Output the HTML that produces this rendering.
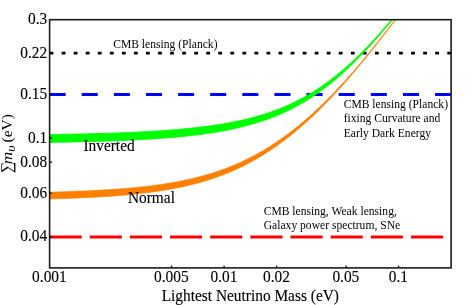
<!DOCTYPE html>
<html><head><meta charset="utf-8"><title>Neutrino mass</title>
<style>
html,body{margin:0;padding:0;background:#fff;}
body{width:471px;height:305px;overflow:hidden;font-family:"Liberation Serif",serif;}
svg{display:block;will-change:transform;opacity:0.999;}
text{font-family:"Liberation Serif",serif;fill:#000;stroke:#000;stroke-width:0.12px;}
.b{font-size:15.4px;}
.s{font-size:11.6px;stroke-width:0;}
.r text{stroke-width:0;}
</style></head><body>
<svg width="471" height="305" viewBox="0 0 471 305">
<rect width="471" height="305" fill="#fff"/>
<defs><clipPath id="c"><rect x="49.6" y="19.7" width="401.50" height="248.20"/></clipPath></defs>
<g clip-path="url(#c)">
<line x1="49.6" x2="451.1" y1="53.13" y2="53.13" stroke="#000" stroke-width="2.7" stroke-dasharray="3.8 8.25"/>
<line x1="49.6" x2="451.1" y1="94.42" y2="94.42" stroke="#0000ff" stroke-width="3" stroke-dasharray="16.06 16.06"/>
<line x1="49.6" x2="451.1" y1="236.89" y2="236.89" stroke="#ff0000" stroke-width="3" stroke-dasharray="32.12 8.03"/>
<path d="M49.60,192.22 L51.62,192.16 L53.64,192.11 L55.65,192.05 L57.67,191.99 L59.69,191.93 L61.71,191.86 L63.72,191.80 L65.74,191.73 L67.76,191.66 L69.78,191.59 L71.79,191.52 L73.81,191.44 L75.83,191.36 L77.85,191.28 L79.86,191.20 L81.88,191.12 L83.90,191.03 L85.92,190.94 L87.93,190.84 L89.95,190.75 L91.97,190.65 L93.99,190.55 L96.00,190.44 L98.02,190.33 L100.04,190.22 L102.06,190.11 L104.07,189.99 L106.09,189.86 L108.11,189.74 L110.13,189.61 L112.15,189.47 L114.16,189.33 L116.18,189.19 L118.20,189.04 L120.22,188.89 L122.23,188.73 L124.25,188.57 L126.27,188.40 L128.29,188.22 L130.30,188.04 L132.32,187.86 L134.34,187.67 L136.36,187.47 L138.37,187.27 L140.39,187.06 L142.41,186.84 L144.43,186.62 L146.44,186.39 L148.46,186.15 L150.48,185.91 L152.50,185.65 L154.51,185.39 L156.53,185.12 L158.55,184.84 L160.57,184.55 L162.58,184.26 L164.60,183.95 L166.62,183.63 L168.64,183.31 L170.66,182.97 L172.67,182.62 L174.69,182.26 L176.71,181.89 L178.73,181.51 L180.74,181.12 L182.76,180.71 L184.78,180.29 L186.80,179.86 L188.81,179.42 L190.83,178.96 L192.85,178.48 L194.87,178.00 L196.88,177.50 L198.90,176.98 L200.92,176.45 L202.94,175.90 L204.95,175.33 L206.97,174.75 L208.99,174.15 L211.01,173.54 L213.02,172.91 L215.04,172.26 L217.06,171.59 L219.08,170.90 L221.09,170.19 L223.11,169.47 L225.13,168.72 L227.15,167.95 L229.17,167.17 L231.18,166.36 L233.20,165.53 L235.22,164.68 L237.24,163.81 L239.25,162.92 L241.27,162.00 L243.29,161.06 L245.31,160.10 L247.32,159.12 L249.34,158.11 L251.36,157.08 L253.38,156.02 L255.39,154.94 L257.41,153.84 L259.43,152.71 L261.45,151.56 L263.46,150.38 L265.48,149.18 L267.50,147.95 L269.52,146.69 L271.53,145.41 L273.55,144.10 L275.57,142.77 L277.59,141.41 L279.61,140.03 L281.62,138.61 L283.64,137.17 L285.66,135.71 L287.68,134.22 L289.69,132.70 L291.71,131.15 L293.73,129.58 L295.75,127.98 L297.76,126.35 L299.78,124.69 L301.80,123.01 L303.82,121.31 L305.83,119.57 L307.85,117.81 L309.87,116.02 L311.89,114.21 L313.90,112.36 L315.92,110.50 L317.94,108.60 L319.96,106.68 L321.97,104.74 L323.99,102.77 L326.01,100.77 L328.03,98.75 L330.04,96.71 L332.06,94.64 L334.08,92.54 L336.10,90.42 L338.12,88.28 L340.13,86.12 L342.15,83.93 L344.17,81.72 L346.19,79.49 L348.20,77.24 L350.22,74.96 L352.24,72.67 L354.26,70.35 L356.27,68.02 L358.29,65.66 L360.31,63.29 L362.33,60.90 L364.34,58.49 L366.36,56.06 L368.38,53.61 L370.40,51.15 L372.41,48.67 L374.43,46.18 L376.45,43.67 L378.47,41.15 L380.48,38.61 L382.50,36.06 L384.52,33.49 L386.54,30.91 L388.55,28.32 L390.57,25.72 L392.59,23.10 L394.61,20.48 L396.63,17.84 L398.64,15.19 L400.66,12.54 L402.68,9.87 L404.70,7.20 L406.71,4.51 L408.73,1.82 L410.75,-0.88 L412.77,-3.59 L414.78,-6.31 L416.80,-9.03 L418.82,-11.77 L420.84,-14.50 L422.85,-17.25 L424.87,-20.00 L426.89,-22.75 L428.91,-25.51 L430.92,-28.28 L432.94,-31.05 L434.96,-33.83 L436.98,-36.61 L438.99,-39.39 L441.01,-42.18 L443.03,-44.98 L445.05,-47.77 L447.06,-50.57 L449.08,-53.38 L451.10,-56.18 L451.10,-56.03 L449.08,-53.21 L447.06,-50.40 L445.05,-47.59 L443.03,-44.78 L441.01,-41.98 L438.99,-39.18 L436.98,-36.39 L434.96,-33.59 L432.94,-30.81 L430.92,-28.02 L428.91,-25.24 L426.89,-22.47 L424.87,-19.70 L422.85,-16.93 L420.84,-14.17 L418.82,-11.42 L416.80,-8.67 L414.78,-5.93 L412.77,-3.19 L410.75,-0.46 L408.73,2.26 L406.71,4.97 L404.70,7.68 L402.68,10.38 L400.66,13.07 L398.64,15.75 L396.63,18.43 L394.61,21.09 L392.59,23.74 L390.57,26.39 L388.55,29.02 L386.54,31.64 L384.52,34.26 L382.50,36.85 L380.48,39.44 L378.47,42.02 L376.45,44.58 L374.43,47.13 L372.41,49.66 L370.40,52.18 L368.38,54.68 L366.36,57.17 L364.34,59.65 L362.33,62.10 L360.31,64.54 L358.29,66.96 L356.27,69.37 L354.26,71.76 L352.24,74.12 L350.22,76.47 L348.20,78.80 L346.19,81.11 L344.17,83.40 L342.15,85.67 L340.13,87.91 L338.12,90.14 L336.10,92.34 L334.08,94.52 L332.06,96.67 L330.04,98.81 L328.03,100.92 L326.01,103.00 L323.99,105.06 L321.97,107.10 L319.96,109.11 L317.94,111.10 L315.92,113.06 L313.90,114.99 L311.89,116.90 L309.87,118.78 L307.85,120.64 L305.83,122.47 L303.82,124.27 L301.80,126.05 L299.78,127.80 L297.76,129.52 L295.75,131.22 L293.73,132.88 L291.71,134.53 L289.69,136.14 L287.68,137.73 L285.66,139.29 L283.64,140.82 L281.62,142.32 L279.61,143.80 L277.59,145.25 L275.57,146.68 L273.55,148.07 L271.53,149.44 L269.52,150.79 L267.50,152.11 L265.48,153.40 L263.46,154.66 L261.45,155.90 L259.43,157.11 L257.41,158.30 L255.39,159.46 L253.38,160.60 L251.36,161.71 L249.34,162.80 L247.32,163.86 L245.31,164.90 L243.29,165.91 L241.27,166.90 L239.25,167.87 L237.24,168.81 L235.22,169.73 L233.20,170.63 L231.18,171.50 L229.17,172.36 L227.15,173.19 L225.13,174.00 L223.11,174.79 L221.09,175.56 L219.08,176.31 L217.06,177.03 L215.04,177.74 L213.02,178.43 L211.01,179.10 L208.99,179.76 L206.97,180.39 L204.95,181.01 L202.94,181.60 L200.92,182.19 L198.90,182.75 L196.88,183.30 L194.87,183.83 L192.85,184.35 L190.83,184.85 L188.81,185.34 L186.80,185.81 L184.78,186.27 L182.76,186.72 L180.74,187.15 L178.73,187.57 L176.71,187.97 L174.69,188.37 L172.67,188.75 L170.66,189.12 L168.64,189.48 L166.62,189.82 L164.60,190.16 L162.58,190.49 L160.57,190.80 L158.55,191.11 L156.53,191.41 L154.51,191.69 L152.50,191.97 L150.48,192.24 L148.46,192.50 L146.44,192.76 L144.43,193.00 L142.41,193.24 L140.39,193.47 L138.37,193.69 L136.36,193.91 L134.34,194.12 L132.32,194.32 L130.30,194.52 L128.29,194.71 L126.27,194.90 L124.25,195.07 L122.23,195.25 L120.22,195.42 L118.20,195.58 L116.18,195.74 L114.16,195.89 L112.15,196.04 L110.13,196.18 L108.11,196.32 L106.09,196.46 L104.07,196.59 L102.06,196.72 L100.04,196.84 L98.02,196.96 L96.00,197.07 L93.99,197.19 L91.97,197.30 L89.95,197.40 L87.93,197.50 L85.92,197.60 L83.90,197.70 L81.88,197.79 L79.86,197.88 L77.85,197.97 L75.83,198.06 L73.81,198.14 L71.79,198.22 L69.78,198.30 L67.76,198.38 L65.74,198.45 L63.72,198.52 L61.71,198.59 L59.69,198.66 L57.67,198.72 L55.65,198.79 L53.64,198.85 L51.62,198.91 L49.60,198.97Z" fill="#ff8000" stroke="#ff8000" stroke-width="0.7" stroke-linejoin="round"/>
<path d="M49.60,134.54 L51.62,134.51 L53.64,134.48 L55.65,134.45 L57.67,134.42 L59.69,134.38 L61.71,134.35 L63.72,134.32 L65.74,134.28 L67.76,134.24 L69.78,134.21 L71.79,134.17 L73.81,134.13 L75.83,134.09 L77.85,134.05 L79.86,134.00 L81.88,133.96 L83.90,133.91 L85.92,133.87 L87.93,133.82 L89.95,133.77 L91.97,133.72 L93.99,133.67 L96.00,133.61 L98.02,133.56 L100.04,133.50 L102.06,133.44 L104.07,133.38 L106.09,133.32 L108.11,133.26 L110.13,133.19 L112.15,133.13 L114.16,133.06 L116.18,132.99 L118.20,132.91 L120.22,132.84 L122.23,132.76 L124.25,132.68 L126.27,132.60 L128.29,132.51 L130.30,132.43 L132.32,132.34 L134.34,132.25 L136.36,132.15 L138.37,132.05 L140.39,131.95 L142.41,131.85 L144.43,131.75 L146.44,131.64 L148.46,131.52 L150.48,131.41 L152.50,131.29 L154.51,131.17 L156.53,131.04 L158.55,130.91 L160.57,130.78 L162.58,130.64 L164.60,130.50 L166.62,130.35 L168.64,130.20 L170.66,130.05 L172.67,129.89 L174.69,129.73 L176.71,129.56 L178.73,129.38 L180.74,129.20 L182.76,129.02 L184.78,128.83 L186.80,128.63 L188.81,128.43 L190.83,128.22 L192.85,128.01 L194.87,127.79 L196.88,127.56 L198.90,127.33 L200.92,127.09 L202.94,126.84 L204.95,126.58 L206.97,126.32 L208.99,126.04 L211.01,125.76 L213.02,125.47 L215.04,125.17 L217.06,124.87 L219.08,124.55 L221.09,124.22 L223.11,123.89 L225.13,123.54 L227.15,123.18 L229.17,122.81 L231.18,122.43 L233.20,122.04 L235.22,121.63 L237.24,121.21 L239.25,120.78 L241.27,120.34 L243.29,119.88 L245.31,119.41 L247.32,118.92 L249.34,118.42 L251.36,117.91 L253.38,117.37 L255.39,116.82 L257.41,116.26 L259.43,115.67 L261.45,115.07 L263.46,114.45 L265.48,113.81 L267.50,113.15 L269.52,112.48 L271.53,111.78 L273.55,111.06 L275.57,110.32 L277.59,109.55 L279.61,108.77 L281.62,107.96 L283.64,107.13 L285.66,106.27 L287.68,105.39 L289.69,104.48 L291.71,103.55 L293.73,102.59 L295.75,101.60 L297.76,100.59 L299.78,99.55 L301.80,98.48 L303.82,97.38 L305.83,96.25 L307.85,95.09 L309.87,93.91 L311.89,92.69 L313.90,91.44 L315.92,90.16 L317.94,88.85 L319.96,87.50 L321.97,86.13 L323.99,84.72 L326.01,83.28 L328.03,81.80 L330.04,80.30 L332.06,78.76 L334.08,77.19 L336.10,75.58 L338.12,73.95 L340.13,72.28 L342.15,70.57 L344.17,68.84 L346.19,67.07 L348.20,65.27 L350.22,63.44 L352.24,61.57 L354.26,59.68 L356.27,57.75 L358.29,55.80 L360.31,53.81 L362.33,51.80 L364.34,49.75 L366.36,47.68 L368.38,45.58 L370.40,43.45 L372.41,41.29 L374.43,39.11 L376.45,36.90 L378.47,34.67 L380.48,32.41 L382.50,30.13 L384.52,27.83 L386.54,25.50 L388.55,23.15 L390.57,20.78 L392.59,18.39 L394.61,15.98 L396.63,13.55 L398.64,11.10 L400.66,8.63 L402.68,6.15 L404.70,3.64 L406.71,1.13 L408.73,-1.41 L410.75,-3.96 L412.77,-6.52 L414.78,-9.10 L416.80,-11.69 L418.82,-14.29 L420.84,-16.90 L422.85,-19.53 L424.87,-22.17 L426.89,-24.82 L428.91,-27.48 L430.92,-30.15 L432.94,-32.83 L434.96,-35.52 L436.98,-38.21 L438.99,-40.92 L441.01,-43.63 L443.03,-46.35 L445.05,-49.08 L447.06,-51.82 L449.08,-54.56 L451.10,-57.31 L451.10,-57.00 L449.08,-54.23 L447.06,-51.48 L445.05,-48.72 L443.03,-45.98 L441.01,-43.24 L438.99,-40.50 L436.98,-37.78 L434.96,-35.06 L432.94,-32.35 L430.92,-29.64 L428.91,-26.95 L426.89,-24.26 L424.87,-21.58 L422.85,-18.92 L420.84,-16.26 L418.82,-13.61 L416.80,-10.98 L414.78,-8.35 L412.77,-5.74 L410.75,-3.14 L408.73,-0.55 L406.71,2.02 L404.70,4.58 L402.68,7.13 L400.66,9.66 L398.64,12.17 L396.63,14.67 L394.61,17.15 L392.59,19.61 L390.57,22.06 L388.55,24.49 L386.54,26.89 L384.52,29.28 L382.50,31.64 L380.48,33.99 L378.47,36.31 L376.45,38.61 L374.43,40.89 L372.41,43.14 L370.40,45.37 L368.38,47.57 L366.36,49.75 L364.34,51.89 L362.33,54.02 L360.31,56.11 L358.29,58.18 L356.27,60.22 L354.26,62.23 L352.24,64.21 L350.22,66.16 L348.20,68.07 L346.19,69.96 L344.17,71.82 L342.15,73.64 L340.13,75.44 L338.12,77.20 L336.10,78.92 L334.08,80.62 L332.06,82.28 L330.04,83.91 L328.03,85.51 L326.01,87.07 L323.99,88.61 L321.97,90.10 L319.96,91.57 L317.94,93.00 L315.92,94.41 L313.90,95.77 L311.89,97.11 L309.87,98.42 L307.85,99.69 L305.83,100.93 L303.82,102.14 L301.80,103.32 L299.78,104.47 L297.76,105.60 L295.75,106.69 L293.73,107.75 L291.71,108.79 L289.69,109.79 L287.68,110.77 L285.66,111.73 L283.64,112.65 L281.62,113.56 L279.61,114.43 L277.59,115.28 L275.57,116.11 L273.55,116.91 L271.53,117.70 L269.52,118.45 L267.50,119.19 L265.48,119.90 L263.46,120.60 L261.45,121.27 L259.43,121.93 L257.41,122.56 L255.39,123.18 L253.38,123.77 L251.36,124.35 L249.34,124.92 L247.32,125.46 L245.31,125.99 L243.29,126.50 L241.27,127.00 L239.25,127.49 L237.24,127.95 L235.22,128.41 L233.20,128.85 L231.18,129.28 L229.17,129.69 L227.15,130.09 L225.13,130.48 L223.11,130.86 L221.09,131.23 L219.08,131.59 L217.06,131.93 L215.04,132.27 L213.02,132.59 L211.01,132.91 L208.99,133.21 L206.97,133.51 L204.95,133.80 L202.94,134.07 L200.92,134.34 L198.90,134.61 L196.88,134.86 L194.87,135.11 L192.85,135.35 L190.83,135.58 L188.81,135.81 L186.80,136.03 L184.78,136.24 L182.76,136.45 L180.74,136.65 L178.73,136.84 L176.71,137.03 L174.69,137.21 L172.67,137.39 L170.66,137.56 L168.64,137.73 L166.62,137.90 L164.60,138.05 L162.58,138.21 L160.57,138.36 L158.55,138.50 L156.53,138.64 L154.51,138.78 L152.50,138.91 L150.48,139.04 L148.46,139.16 L146.44,139.29 L144.43,139.40 L142.41,139.52 L140.39,139.63 L138.37,139.74 L136.36,139.84 L134.34,139.95 L132.32,140.05 L130.30,140.14 L128.29,140.24 L126.27,140.33 L124.25,140.42 L122.23,140.50 L120.22,140.59 L118.20,140.67 L116.18,140.75 L114.16,140.82 L112.15,140.90 L110.13,140.97 L108.11,141.04 L106.09,141.11 L104.07,141.18 L102.06,141.24 L100.04,141.30 L98.02,141.37 L96.00,141.43 L93.99,141.48 L91.97,141.54 L89.95,141.59 L87.93,141.65 L85.92,141.70 L83.90,141.75 L81.88,141.80 L79.86,141.85 L77.85,141.89 L75.83,141.94 L73.81,141.98 L71.79,142.03 L69.78,142.07 L67.76,142.11 L65.74,142.15 L63.72,142.18 L61.71,142.22 L59.69,142.26 L57.67,142.29 L55.65,142.33 L53.64,142.36 L51.62,142.39 L49.60,142.43Z" fill="#00ff00" stroke="#00ff00" stroke-width="0.9" stroke-linejoin="round"/>
</g>
<rect x="49.6" y="19.7" width="401.50" height="248.20" fill="none" stroke="#1c1c1c" stroke-width="1.6"/>
<g stroke="#111" stroke-width="1.3">
<line x1="49.6" x2="52.0" y1="53.13" y2="53.13"/>
<line x1="49.6" x2="52.0" y1="94.42" y2="94.42"/>
<line x1="49.6" x2="52.0" y1="138.12" y2="138.12"/>
<line x1="49.6" x2="52.0" y1="162.17" y2="162.17"/>
<line x1="49.6" x2="52.0" y1="193.18" y2="193.18"/>
<line x1="49.6" x2="52.0" y1="236.89" y2="236.89"/>
<line x1="171.56" x2="171.56" y1="267.9" y2="265.5"/>
<line x1="224.09" x2="224.09" y1="267.9" y2="265.5"/>
<line x1="276.61" x2="276.61" y1="267.9" y2="265.5"/>
<line x1="346.05" x2="346.05" y1="267.9" y2="265.5"/>
<line x1="398.57" x2="398.57" y1="267.9" y2="265.5"/>
</g>
<text class="b" transform="translate(47.2,24.10) scale(1,1.09)" text-anchor="end">0.3</text>
<text class="b" transform="translate(47.2,57.53) scale(1,1.09)" text-anchor="end">0.22</text>
<text class="b" transform="translate(47.2,98.82) scale(1,1.09)" text-anchor="end">0.15</text>
<text class="b" transform="translate(47.2,142.52) scale(1,1.09)" text-anchor="end">0.1</text>
<text class="b" transform="translate(47.2,166.57) scale(1,1.09)" text-anchor="end">0.08</text>
<text class="b" transform="translate(47.2,197.58) scale(1,1.09)" text-anchor="end">0.06</text>
<text class="b" transform="translate(47.2,241.29) scale(1,1.09)" text-anchor="end">0.04</text>
<text class="b" transform="translate(49.40,281.6) scale(1,1.09)" text-anchor="middle">0.001</text>
<text class="b" transform="translate(171.36,281.6) scale(1,1.09)" text-anchor="middle">0.005</text>
<text class="b" transform="translate(223.89,281.6) scale(1,1.09)" text-anchor="middle">0.01</text>
<text class="b" transform="translate(276.41,281.6) scale(1,1.09)" text-anchor="middle">0.02</text>
<text class="b" transform="translate(345.85,281.6) scale(1,1.09)" text-anchor="middle">0.05</text>
<text class="b" transform="translate(398.37,281.6) scale(1,1.09)" text-anchor="middle">0.1</text>
<text class="b" transform="translate(250.3,301) scale(1,1.09)" text-anchor="middle">Lightest Neutrino Mass (eV)</text>
<g class="r" transform="translate(11.5,172.4) rotate(-90)">
<text font-size="16px" x="-0.7" y="0">∑</text>
<text class="b" font-style="italic" transform="translate(8.1,0) scale(1.12,1)">m</text>
<text font-style="italic" font-size="11.7px" transform="translate(20.7,3.1) scale(1.18,1)">υ</text>
<text class="b" transform="translate(30,0) scale(1,0.93)">(eV)</text>
</g>
<text class="b" transform="translate(83.4,151) scale(1,1.09)">Inverted</text>
<text class="b" transform="translate(127.9,202.8) scale(1,1.09)">Normal</text>
<text class="s" transform="translate(113.2,47.8) scale(1,1.09)">CMB lensing (Planck)</text>
<text class="s" transform="translate(343.7,108.2) scale(1,1.09)">CMB lensing (Planck)</text>
<text class="s" transform="translate(343.7,122.4) scale(1,1.09)">fixing Curvature and</text>
<text class="s" transform="translate(343.7,136.6) scale(1,1.09)">Early Dark Energy</text>
<text class="s" transform="translate(263.7,215) scale(1,1.09)">CMB lensing, Weak lensing,</text>
<text class="s" transform="translate(263.7,228.8) scale(1,1.09)">Galaxy power spectrum, SNe</text>
</svg>
</body></html>
